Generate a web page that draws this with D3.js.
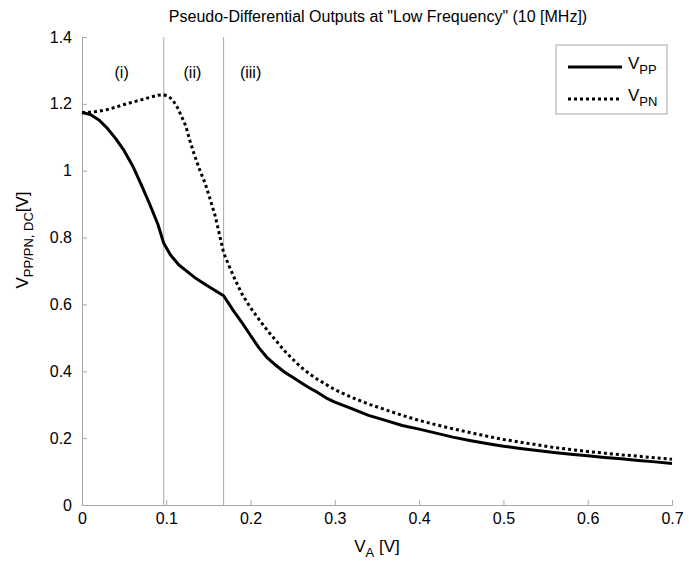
<!DOCTYPE html>
<html>
<head>
<meta charset="utf-8">
<script src="https://cdn.jsdelivr.net/npm/d3@7"></script>
<style>
  body { margin: 0; background: #fff; }
  svg { display: block; font-family: "Liberation Sans", Arial, sans-serif; }
  .axis path, .axis line { stroke: #a8a8a8; }
  .axis text { font-size: 16px; fill: #000; font-family: "Liberation Sans", Arial, sans-serif; }
</style>
</head>
<body>
<svg id="chart"></svg>
<script>
// V_A sweep [V] and read-off DC outputs [V]
const vaPP = [0, 0.01, 0.02, 0.03, 0.04, 0.05, 0.06, 0.07, 0.08, 0.09, 0.097, 0.105, 0.115, 0.125, 0.135, 0.145, 0.155, 0.168,
  0.18, 0.19, 0.2, 0.21, 0.22, 0.23, 0.24, 0.25, 0.26, 0.27, 0.28, 0.29, 0.3, 0.31, 0.32, 0.34, 0.36, 0.38, 0.4,
  0.42, 0.44, 0.46, 0.48, 0.5, 0.52, 0.54, 0.56, 0.58, 0.6, 0.62, 0.64, 0.66, 0.68, 0.7];
const vPP = [1.174, 1.168, 1.152, 1.127, 1.096, 1.06, 1.015, 0.96, 0.902, 0.84, 0.783, 0.748, 0.718, 0.698, 0.678, 0.662, 0.646, 0.626,
  0.58, 0.545, 0.507, 0.47, 0.44, 0.418, 0.398, 0.382, 0.366, 0.35, 0.336, 0.32, 0.308, 0.298, 0.288, 0.268, 0.253, 0.238, 0.227,
  0.215, 0.203, 0.193, 0.184, 0.176, 0.169, 0.163, 0.157, 0.152, 0.147, 0.142, 0.138, 0.133, 0.129, 0.124];

const vaPN = [0, 0.01, 0.02, 0.03, 0.04, 0.05, 0.06, 0.07, 0.08, 0.09, 0.097, 0.103, 0.108, 0.113, 0.118, 0.123, 0.128, 0.133,
  0.14, 0.146, 0.152, 0.158, 0.163, 0.168, 0.175, 0.182, 0.19, 0.2, 0.21, 0.22, 0.23, 0.24, 0.25, 0.26, 0.27, 0.28, 0.29, 0.3,
  0.32, 0.34, 0.36, 0.38, 0.4, 0.42, 0.44, 0.46, 0.48, 0.5, 0.52, 0.54, 0.56, 0.58, 0.6, 0.62, 0.64, 0.66, 0.68, 0.7];
const vPN = [1.174, 1.175, 1.178, 1.183, 1.19, 1.198, 1.205, 1.212, 1.219, 1.226, 1.227, 1.222, 1.21, 1.19, 1.163, 1.135, 1.09, 1.05,
  1.0, 0.963, 0.915, 0.865, 0.81, 0.755, 0.712, 0.672, 0.63, 0.59, 0.555, 0.522, 0.492, 0.462, 0.436, 0.412, 0.392, 0.375, 0.36, 0.345,
  0.322, 0.302, 0.285, 0.268, 0.253, 0.24, 0.228, 0.217, 0.206, 0.196, 0.188, 0.18, 0.172, 0.166, 0.16, 0.155, 0.15, 0.146, 0.141, 0.137];

// region boundaries and labels
const regionBounds = [0.097, 0.168];
const regionLabels = [{x: 0.047, text: '(i)'}, {x: 0.131, text: '(ii)'}, {x: 0.2, text: '(iii)'}];

const xTicks = [0, 0.1, 0.2, 0.3, 0.4, 0.5, 0.6, 0.7];
const yTicks = [0, 0.2, 0.4, 0.6, 0.8, 1, 1.2, 1.4];

const config = {
  containerWidth: 689,
  containerHeight: 561,
  margin: {top: 37, right: 17, bottom: 56, left: 82}
};

const width = config.containerWidth - config.margin.left - config.margin.right;
const height = config.containerHeight - config.margin.top - config.margin.bottom;

const svg = d3.select('#chart')
  .attr('width', config.containerWidth)
  .attr('height', config.containerHeight);

const chart = svg.append('g')
  .attr('transform', `translate(${config.margin.left},${config.margin.top})`);

const xScale = d3.scaleLinear().domain([0, 0.7]).range([0, width]);
const yScale = d3.scaleLinear().domain([0, 1.4]).range([height, 0]);

// axes: ticks point inward like the original
const xAxis = d3.axisBottom(xScale)
  .tickValues(xTicks)
  .tickFormat(d3.format('~g'))
  .tickSizeInner(-5)
  .tickSizeOuter(-5)
  .tickPadding(8);

const yAxis = d3.axisLeft(yScale)
  .tickValues(yTicks)
  .tickFormat(d3.format('~g'))
  .tickSizeInner(-5)
  .tickSizeOuter(-5)
  .tickPadding(10);

chart.append('g')
  .attr('class', 'axis x-axis')
  .attr('transform', `translate(0,${height})`)
  .call(xAxis);

chart.append('g')
  .attr('class', 'axis y-axis')
  .call(yAxis);

// region separators
chart.selectAll('.region-line')
  .data(regionBounds)
  .join('line')
  .attr('class', 'region-line')
  .attr('x1', d => xScale(d))
  .attr('x2', d => xScale(d))
  .attr('y1', 0)
  .attr('y2', height)
  .attr('stroke', '#a8a8a8')
  .attr('stroke-width', 1);

chart.selectAll('.region-label')
  .data(regionLabels)
  .join('text')
  .attr('class', 'region-label')
  .attr('x', d => xScale(d.x))
  .attr('y', 41)
  .attr('text-anchor', 'middle')
  .attr('font-size', 16)
  .text(d => d.text);

// curves
const line = d3.line()
  .x(d => xScale(d[0]))
  .y(d => yScale(d[1]));

chart.append('path')
  .datum(vaPP.map((v, i) => [v, vPP[i]]))
  .attr('fill', 'none')
  .attr('stroke', '#000')
  .attr('stroke-width', 3)
  .attr('stroke-linejoin', 'round')
  .attr('d', line);

chart.append('path')
  .datum(vaPN.map((v, i) => [v, vPN[i]]))
  .attr('fill', 'none')
  .attr('stroke', '#000')
  .attr('stroke-width', 3)
  .attr('stroke-dasharray', '3,3')
  .attr('d', line);

// title
svg.append('text')
  .attr('x', 378)
  .attr('y', 22)
  .attr('text-anchor', 'middle')
  .attr('font-size', 16)
  .text('Pseudo-Differential Outputs at "Low Frequency" (10 [MHz])');

// x label
const xLabel = svg.append('text')
  .attr('x', 377)
  .attr('y', 552)
  .attr('text-anchor', 'middle')
  .attr('font-size', 17);
xLabel.append('tspan').text('V');
xLabel.append('tspan').attr('font-size', 13).attr('dy', 5).text('A');
xLabel.append('tspan').attr('dy', -5).text(' [V]');

// y label
const yLabel = svg.append('text')
  .attr('transform', 'translate(28,240) rotate(-90)')
  .attr('text-anchor', 'middle')
  .attr('font-size', 17);
yLabel.append('tspan').text('V');
yLabel.append('tspan').attr('font-size', 13).attr('dy', 5).text('PP/PN, DC');
yLabel.append('tspan').attr('dy', -5).text('[V]');

// legend
const legend = svg.append('g').attr('transform', 'translate(556,45)');
legend.append('rect')
  .attr('width', 111)
  .attr('height', 69)
  .attr('fill', '#fff')
  .attr('stroke', '#a8a8a8');

const legendItems = [
  {name: 'PP', dash: null, y: 22},
  {name: 'PN', dash: '3,3', y: 54}
];
legendItems.forEach(item => {
  legend.append('line')
    .attr('x1', 12).attr('x2', 66)
    .attr('y1', item.y).attr('y2', item.y)
    .attr('stroke', '#000')
    .attr('stroke-width', 3)
    .attr('stroke-dasharray', item.dash);
  const t = legend.append('text')
    .attr('x', 72)
    .attr('y', item.y + 2)
    .attr('font-size', 17);
  t.append('tspan').text('V');
  t.append('tspan').attr('font-size', 13).attr('dy', 5).text(item.name);
});
</script>
</body>
</html>
